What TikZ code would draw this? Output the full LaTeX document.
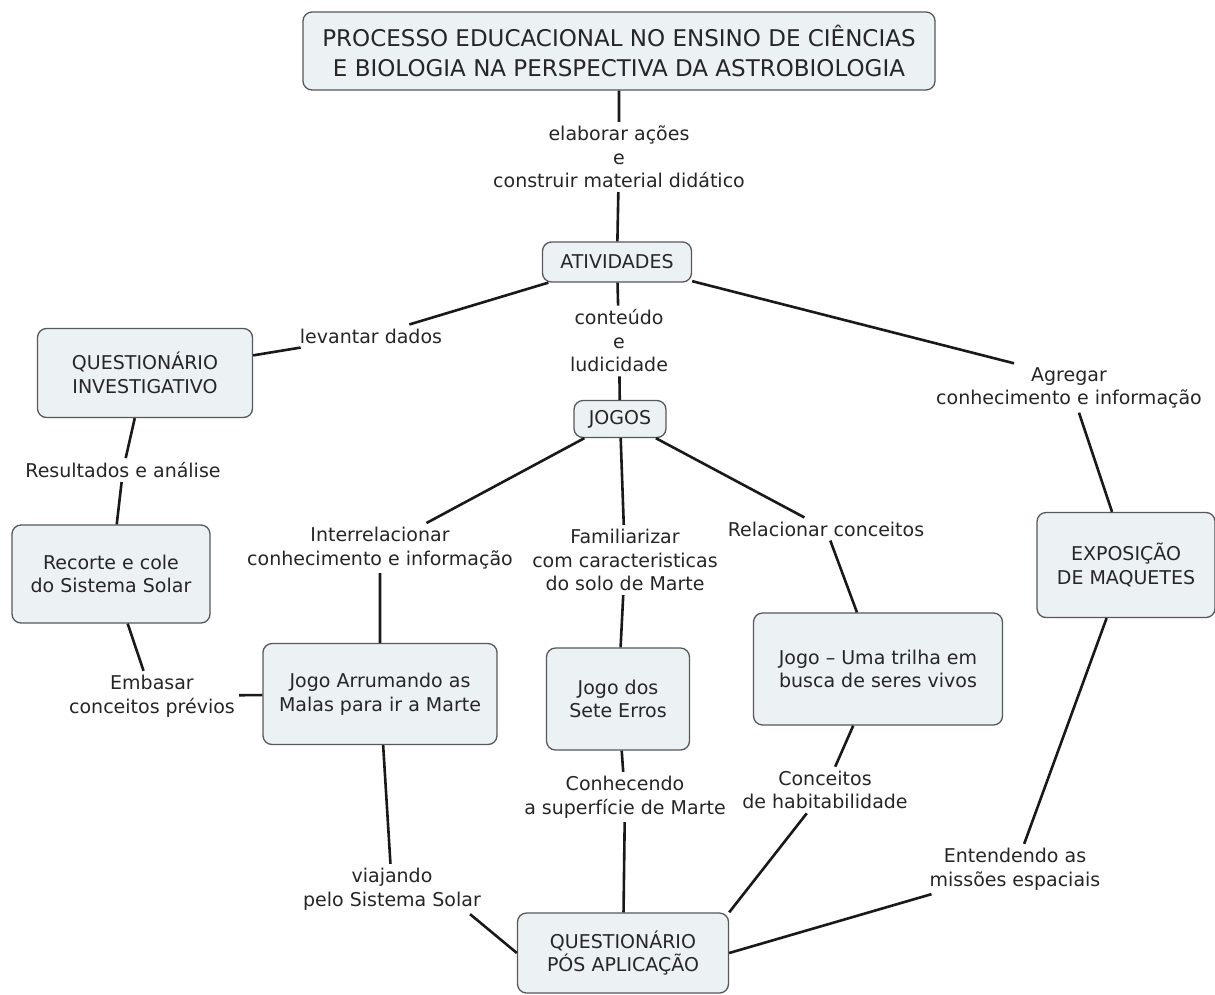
\documentclass[tikz,border=0pt]{standalone}
\usepackage{fontspec}
\setmainfont{DejaVu Sans}
\usepackage{xcolor}
\usepackage{tikz}
\definecolor{BoxFill}{RGB}{236,241,244}
\definecolor{BoxLine}{RGB}{85,88,92}
\definecolor{Ink}{RGB}{38,38,38}
\definecolor{Wire}{RGB}{25,25,25}

\tikzset{
  conceito/.style={draw=BoxLine,fill=BoxFill,rounded corners=9pt,line width=1.3pt,
    align=center,inner sep=0pt,text=Ink,font=\fontsize{19}{23.5}\selectfont},
  rotulo/.style={align=center,inner sep=4pt,text=Ink,font=\fontsize{19}{23.5}\selectfont},
  ligacao/.style={draw=Wire,line width=2.6pt},
}

\begin{document}
\begin{tikzpicture}[x=1pt,y=-1pt]
  \useasboundingbox[fill=white] (0,0) rectangle (1215,994);

  % conceitos
  \node[conceito,minimum width=632,minimum height=78,font=\fontsize{23}{30}\selectfont] (titulo) at (619,51)
    {PROCESSO EDUCACIONAL NO ENSINO DE CIÊNCIAS\\E BIOLOGIA NA PERSPECTIVA DA ASTROBIOLOGIA};
  \node[conceito,minimum width=149,minimum height=40] (ativ) at (617,262) {ATIVIDADES};
  \node[conceito,minimum width=92,minimum height=37] (jogos) at (620,419) {JOGOS};
  \node[conceito,minimum width=215,minimum height=89] (qinv) at (145,373) {QUESTIONÁRIO\\INVESTIGATIVO};
  \node[conceito,minimum width=198,minimum height=98] (recorte) at (111,574) {Recorte e cole\\do Sistema Solar};
  \node[conceito,minimum width=234,minimum height=101] (malas) at (380,694) {Jogo Arrumando as\\Malas para ir a Marte};
  \node[conceito,minimum width=143,minimum height=102] (erros) at (618,699) {Jogo dos\\Sete Erros};
  \node[conceito,minimum width=249,minimum height=112] (trilha) at (878,669) {Jogo -- Uma trilha em\\busca de seres vivos};
  \node[conceito,minimum width=178,minimum height=105] (expo) at (1126,565) {EXPOSIÇÃO\\DE MAQUETES};
  \node[conceito,minimum width=211,minimum height=80] (pos) at (623,953) {QUESTIONÁRIO\\PÓS APLICAÇÃO};

  % frases de ligacao
  \node[rotulo] (lelab) at (619,157) {elaborar ações\\e\\construir material didático};
  \node[rotulo] (llev) at (371,336) {levantar dados};
  \node[rotulo] (lcont) at (619,341) {conteúdo\\e\\ludicidade};
  \node[rotulo] (lagr) at (1069,388) {Agregar\\conhecimento e informação};
  \node[rotulo] (lres) at (123,470) {Resultados e análise};
  \node[rotulo] (linter) at (380,548) {Interrelacionar\\conhecimento e informação};
  \node[rotulo] (lfam) at (625,560) {Familiarizar\\com caracteristicas\\do solo de Marte};
  \node[rotulo] (lrel) at (826,529) {Relacionar conceitos};
  \node[rotulo] (lemb) at (152,696) {Embasar\\conceitos prévios};
  \node[rotulo] (lconh) at (625,797) {Conhecendo\\a superfície de Marte};
  \node[rotulo] (lhab) at (825,790) {Conceitos\\de habitabilidade};
  \node[rotulo] (lviaj) at (392,889) {viajando\\pelo Sistema Solar};
  \node[rotulo] (lent) at (1015,869) {Entendendo as\\missões espaciais};

  % ligacoes
  \draw[ligacao] (titulo) -- (lelab) -- (ativ);
  \draw[ligacao] (ativ) -- (llev) -- (qinv);
  \draw[ligacao] (ativ) -- (lcont) -- (jogos);
  \draw[ligacao] (ativ) -- ([xshift=-55pt]lagr.north);
  \draw[ligacao] ([xshift=10pt]lagr.south) -- ([xshift=-14pt]expo.north);
  \draw[ligacao] (qinv) -- (lres) -- (recorte);
  \draw[ligacao] (recorte) -- (lemb) -- (malas);
  \draw[ligacao] (jogos) -- (linter) -- (malas);
  \draw[ligacao] (jogos) -- (lfam) -- (erros);
  \draw[ligacao] (jogos) -- (lrel) -- (trilha);
  \draw[ligacao] (malas) -- (lviaj);
  \draw[ligacao] ([xshift=-15pt]lviaj.south east) -- (pos.west);
  \draw[ligacao] (erros) -- (lconh) -- (pos);
  \draw[ligacao] (trilha) -- (lhab) -- (pos.north east);
  \draw[ligacao] (expo) -- (lent);
  \draw[ligacao] ([xshift=6pt]lent.south west) -- (pos.east);
\end{tikzpicture}
\end{document}
